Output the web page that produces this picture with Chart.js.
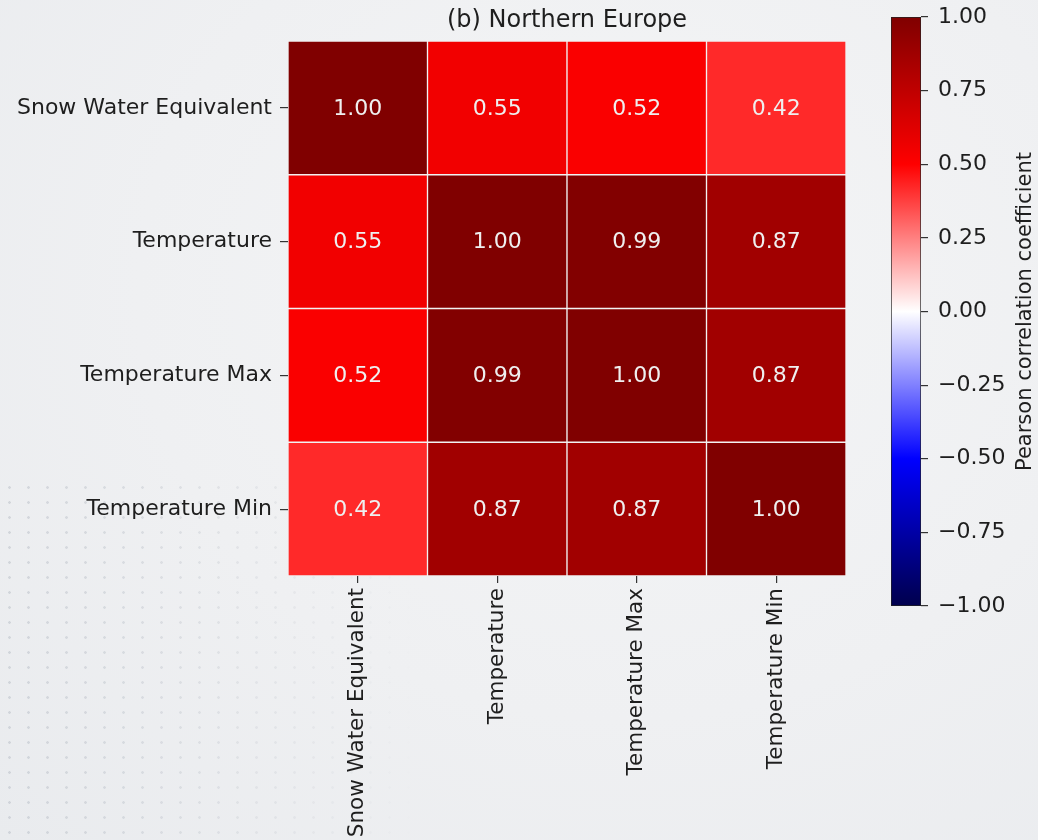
<!DOCTYPE html>
<html>
<head>
<meta charset="utf-8">
<script src="https://cdn.jsdelivr.net/npm/chart.js@4.4.1/dist/chart.umd.min.js"></script>
<style>
  html, body { margin: 0; padding: 0; }
  body {
    width: 1038px; height: 840px; overflow: hidden; position: relative;
    background: radial-gradient(ellipse at 60% 35%, #f4f5f6 0%, #eff0f2 55%, #e9ebee 100%);
    font-family: "DejaVu Sans", sans-serif;
  }
  #dots {
    position: absolute; left: 0; top: 480px; width: 420px; height: 360px;
    background-image: radial-gradient(circle, rgba(165,172,184,0.38) 1px, transparent 1.6px);
    background-size: 19px 15px;
    -webkit-mask-image: linear-gradient(to right, rgba(0,0,0,1) 0%, rgba(0,0,0,0.6) 45%, rgba(0,0,0,0) 100%);
    mask-image: linear-gradient(to right, rgba(0,0,0,1) 0%, rgba(0,0,0,0.6) 45%, rgba(0,0,0,0) 100%);
  }
  #main { position: absolute; left: 0; top: 0; }
  #cbar { position: absolute; left: 880px; top: 0; }
</style>
</head>
<body>
<div id="dots"></div>
<canvas id="main" width="880" height="840"></canvas>
<canvas id="cbar" width="158" height="840"></canvas>
<script>
// ---- data ----
const variables = ["Snow Water Equivalent", "Temperature", "Temperature Max", "Temperature Min"];
const rowSWE   = [1.00, 0.55, 0.52, 0.42];
const rowTemp  = [0.55, 1.00, 0.99, 0.87];
const rowTmax  = [0.52, 0.99, 1.00, 0.87];
const rowTmin  = [0.42, 0.87, 0.87, 1.00];
const colorbarTicks = [-1.00, -0.75, -0.50, -0.25, 0.00, 0.25, 0.50, 0.75, 1.00];
const titleText = "(b) Northern Europe";
const colorbarLabel = "Pearson correlation coefficient";

const rows = [rowSWE, rowTemp, rowTmax, rowTmin];

// seismic colormap
function seismic(v) {
  const t = (v + 1) / 2; // 0..1
  let r, g, b;
  if (t <= 0.25) { const f = t / 0.25; r = 0; g = 0; b = 0.3 + 0.7 * f; }
  else if (t <= 0.5) { const f = (t - 0.25) / 0.25; r = f; g = f; b = 1; }
  else if (t <= 0.75) { const f = (t - 0.5) / 0.25; r = 1; g = 1 - f; b = 1 - f; }
  else { const f = (t - 0.75) / 0.25; r = 1 - 0.5 * f; g = 0; b = 0; }
  return `rgb(${Math.round(r*255)},${Math.round(g*255)},${Math.round(b*255)})`;
}

const FONT = "'DejaVu Sans', sans-serif";
const TXT = "#1e1e1e";
const FS = 22;

const datasets = rows.map((vals, ri) => ({
  label: variables[ri],
  data: vals.map(() => [ri, ri + 1]),
  values: vals,
  backgroundColor: vals.map(seismic),
  borderColor: "#f2f2f2",
  borderWidth: 1,
  borderSkipped: false,
  barPercentage: 1.0,
  categoryPercentage: 1.0,
  grouped: false
}));

const cellText = {
  id: "cellText",
  afterDatasetsDraw(chart) {
    const ctx = chart.ctx;
    ctx.save();
    ctx.font = FS + "px " + FONT;
    ctx.fillStyle = "#efefef";
    ctx.textAlign = "center";
    ctx.textBaseline = "middle";
    chart.data.datasets.forEach((ds, di) => {
      const meta = chart.getDatasetMeta(di);
      meta.data.forEach((bar, i) => {
        const cx = bar.x;
        const cy = (bar.y + bar.base) / 2 + 1;
        ctx.fillText(ds.values[i].toFixed(2), cx, cy);
      });
    });
    // title
    const a = chart.chartArea;
    ctx.font = "24px " + FONT;
    ctx.fillStyle = TXT;
    ctx.fillText(titleText, (a.left + a.right) / 2, 21);
    ctx.restore();
  }
};

new Chart(document.getElementById("main"), {
  type: "bar",
  data: { labels: variables, datasets },
  options: {
    responsive: false,
    animation: false,
    layout: { padding: { top: 41, right: 34, left: 0, bottom: 0 } },
    plugins: { legend: { display: false }, tooltip: { enabled: false }, title: { display: false } },
    scales: {
      x: {
        type: "category",
        offset: true,
        grid: { offset: false, drawOnChartArea: false, drawTicks: true, tickLength: 7, color: "#333", lineWidth: 1.2 },
        border: { display: false },
        ticks: { maxRotation: 90, minRotation: 90, color: TXT, font: { size: 21.5, family: FONT }, padding: 5, autoSkip: false },
        afterFit(scale) { scale.height = 264; scale.paddingLeft = 0; scale.paddingRight = 0; }
      },
      y: {
        type: "linear",
        min: 0, max: 4,
        reverse: true,
        grid: { drawOnChartArea: false, drawTicks: true, tickLength: 8, color: "#333", lineWidth: 1.2 },
        border: { display: false },
        afterBuildTicks(scale) { scale.ticks = variables.map((_, i) => ({ value: i + 0.5 })); },
        ticks: {
          color: TXT, font: { size: FS, family: FONT }, padding: 8,
          callback(v) { return variables[Math.round(v - 0.5)]; }
        },
        afterFit(scale) { scale.width = 288; scale.paddingTop = 0; scale.paddingBottom = 0; }
      }
    }
  },
  plugins: [cellText]
});

// ---- colorbar ----
const cbarLabelPlugin = {
  id: "cbarLabel",
  afterDraw(chart) {
    const ctx = chart.ctx;
    const a = chart.chartArea;
    ctx.save();
    ctx.translate(146, (a.top + a.bottom) / 2);
    ctx.rotate(-Math.PI / 2);
    ctx.font = "21px " + FONT;
    ctx.fillStyle = TXT;
    ctx.textAlign = "center";
    ctx.textBaseline = "middle";
    ctx.fillText(colorbarLabel, 0, 0);
    ctx.restore();
  }
};

new Chart(document.getElementById("cbar"), {
  type: "bar",
  data: {
    labels: [""],
    datasets: [{
      data: [[-1, 1]],
      backgroundColor(ctx) {
        const a = ctx.chart.chartArea;
        if (!a) return "#fff";
        const y = ctx.chart.scales.y;
        const g = ctx.chart.ctx.createLinearGradient(0, y.getPixelForValue(-1), 0, y.getPixelForValue(1));
        for (let i = 0; i <= 40; i++) { const v = -1 + i / 20; g.addColorStop(i / 40, seismic(v)); }
        return g;
      },
      borderColor: "#222",
      borderWidth: 1,
      borderSkipped: false,
      barPercentage: 1.0,
      categoryPercentage: 1.0
    }]
  },
  options: {
    responsive: false,
    animation: false,
    layout: { padding: { top: 17, left: 11, right: 0, bottom: 0 } },
    plugins: { legend: { display: false }, tooltip: { enabled: false } },
    scales: {
      x: { display: false, afterFit(s) { s.height = 234; } },
      y: {
        position: "right",
        min: -1, max: 1,
        grid: { drawOnChartArea: false, drawTicks: true, tickLength: 7, color: "#333", lineWidth: 1.2 },
        border: { display: false },
        afterBuildTicks(scale) { scale.ticks = colorbarTicks.map(v => ({ value: v })); },
        ticks: {
          color: TXT, font: { size: FS, family: FONT }, padding: 10,
          callback(v) { return v.toFixed(2).replace("-", "\u2212"); }
        },
        afterFit(scale) { scale.width = 117; scale.paddingTop = 0; scale.paddingBottom = 0; }
      }
    }
  },
  plugins: [cbarLabelPlugin]
});
</script>
</body>
</html>
